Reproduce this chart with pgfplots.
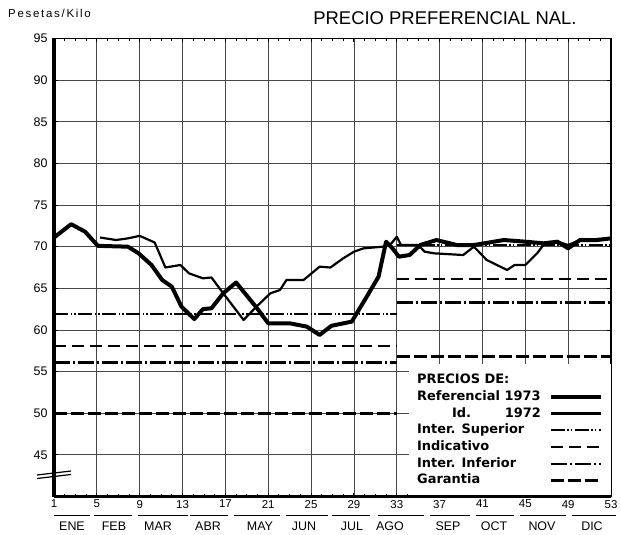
\documentclass[border=0pt]{standalone}
\usepackage{fontspec}
\setmainfont{Liberation Sans}
\newfontfamily\legfont{DejaVu Sans}
\newfontfamily\spfont[LetterSpace=15]{Liberation Sans}
\usepackage{pgfplots}
\pgfplotsset{compat=1.18}

\pgfplotsset{
  ref73/.style={black, line width=4bp, line join=round},
  ref72/.style={black, line width=2.2bp, line join=round},
  isup/.style={black, line width=2.2bp, dash pattern=on 14bp off 2.5bp on 1.5bp off 2bp on 1.5bp off 2.5bp},
  indic/.style={black, line width=1.8bp, dash pattern=on 12bp off 6bp},
  iinf/.style={black, line width=2.2bp, dash pattern=on 16bp off 3bp on 2bp off 3bp},
  garan/.style={black, line width=2.6bp, dash pattern=on 13bp off 4bp},
}

\begin{document}
\begin{tikzpicture}
\path[use as bounding box] (-54bp,-38.4bp) rectangle (567bp,496.5bp);
\begin{axis}[
  at={(0,0)}, anchor=south west,
  scale only axis, width=557bp, height=458bp,
  xmin=1, xmax=53, ymin=40, ymax=95,
  xtick={1,5,...,53}, ytick={45,50,...,95},
  minor x tick num=3,
  grid=major,
  major grid style={black!72, line width=0.75bp},
  axis line style={line width=1.5bp},
  tick align=inside,
  major tick length=4bp, minor tick length=3bp,
  tick style={black, line width=0.9bp},
  /pgf/number format/assume math mode=true,
  xticklabel style={font=\fontsize{11.5}{12}\selectfont},
  yticklabel style={font=\fontsize{12.5}{13}\selectfont, xshift=-3bp},
  legend style={at={(1,0)}, anchor=south east, draw=none, fill=white,
    inner xsep=8bp, inner ysep=10bp, column sep=8bp, row sep=4.7bp,
    font=\legfont\bfseries\fontsize{13}{14}\selectfont,
    nodes={inner sep=0pt, text height=9.5bp, text depth=2.5bp}},
  legend cell align=left, legend plot pos=right,
  legend image code/.code={\draw[#1] (0bp,0bp) -- (50bp,0bp);},
]
% niveles de precios (antes y despues de la semana 33)
\addplot[garan, forget plot] coordinates {(1,50.0) (33,50.0)};
\addplot[garan, forget plot] coordinates {(33,56.8) (53,56.8)};
\addplot[iinf, forget plot] coordinates {(1,56.1) (33,56.1)};
\addplot[iinf, forget plot] coordinates {(33,63.3) (53,63.3)};
\addplot[indic, forget plot] coordinates {(1,58.1) (33,58.1)};
\addplot[indic, forget plot] coordinates {(33,66.1) (53,66.1)};
\addplot[isup, forget plot] coordinates {(1,61.9) (33,61.9)};
\addplot[isup, forget plot] coordinates {(33,70.2) (53,70.2)};

% Id. 1972
\addplot[ref72, forget plot] coordinates {
 (5.3,71.1) (6.8,70.8) (7.9,71.0) (9,71.3) (10.4,70.5) (11.4,67.5) (12.8,67.8)
 (13.6,66.8) (14.9,66.2) (15.7,66.3) (16.8,64.4) (18.7,61.2) (19.9,62.8)
 (21.2,64.4) (22.1,64.8) (22.7,66.0) (24.3,66.0) (25.8,67.6) (26.8,67.5)
 (28,68.6) (29,69.4) (29.9,69.8) (31.7,70.0) (32.5,70.4) (33.0,71.2)
 (33.4,70.2) (35.0,70.2) (35.6,69.4) (36.5,69.2) (39.2,69.0) (40.2,70.0)
 (41.4,68.4) (43.3,67.2) (44.0,67.8) (45.0,67.8) (46.1,69.2) (46.8,70.4)
 (48,70.6) (49,70.2) (50.1,70.8) (53,71.0)};

% Referencial 1973
\addplot[ref73, forget plot] coordinates {
 (1,71.1) (2.6,72.7) (3.9,71.8) (5.1,70.1) (7.9,70.0) (8.9,69.2) (10.1,67.8)
 (11.1,66.0) (12,65.2) (12.9,62.8) (14.1,61.3) (14.9,62.5) (15.7,62.6)
 (16.8,64.4) (18.0,65.7) (19.9,62.7) (21.0,60.8) (23.0,60.8) (24.6,60.4)
 (25.8,59.4) (26.9,60.5) (28.8,61.0) (30.2,64.0) (31.3,66.4) (32.0,70.6)
 (32.6,69.8) (33.2,68.8) (34.2,69.0) (35.2,70.2) (36.7,70.8) (38.6,70.2)
 (40.2,70.2) (43,70.8) (45,70.6) (46.7,70.4) (48,70.6) (49,69.8) (50.1,70.8)
 (51.7,70.8) (53,71.0)};

\addlegendimage{empty legend}\addlegendentry{PRECIOS DE:}
\addlegendimage{ref73}\addlegendentry{Referencial 1973}
\addlegendimage{ref72}\addlegendentry{\hspace*{35bp}Id.\hspace*{33.6bp}1972}
\addlegendimage{isup}\addlegendentry{Inter. Superior}
\addlegendimage{indic}\addlegendentry{Indicativo}
\addlegendimage{iinf}\addlegendentry{Inter. Inferior}
\addlegendimage{garan}\addlegendentry{Garantia}
\end{axis}

% eje izquierdo grueso, eje inferior y corte del eje
\draw[line width=3.5bp] (0,0) -- (0,458bp);
\draw[line width=2.2bp] (0,0) -- (557bp,0);
\draw[line width=1.2bp] (-17bp,18bp) -- (17bp,22bp);
\draw[line width=1.2bp] (-17bp,21.5bp) -- (17bp,25.5bp);

% meses
\foreach \c/\a/\b/\m in {18/0/36/ENE, 60/40/78/FEB, 104/84/134/MAR,
  154/136/174/ABR, 206/180/226/MAY, 250/232/274/JUN, 298/278/316/JUL,
  336/324/370/AGO, 394/376/416/SEP, 440/422/460/OCT, 488/466/512/NOV,
  538/518/562/DIC}{
  \draw[line width=1bp] (\a*1bp,-19.4bp) -- (\b*1bp,-19.4bp);
  \node[font=\fontsize{12.5}{13}\selectfont] at (\c*1bp,-29.4bp) {\m};
}

\node[font=\fontsize{18.5}{20}\selectfont] at (391bp,478.6bp) {PRECIO PREFERENCIAL NAL.};
\node[anchor=west, inner sep=0pt, font=\spfont\fontsize{11.5}{12}\selectfont] at (-46bp,482.6bp) {Pesetas/Kilo};
\end{tikzpicture}
\end{document}
